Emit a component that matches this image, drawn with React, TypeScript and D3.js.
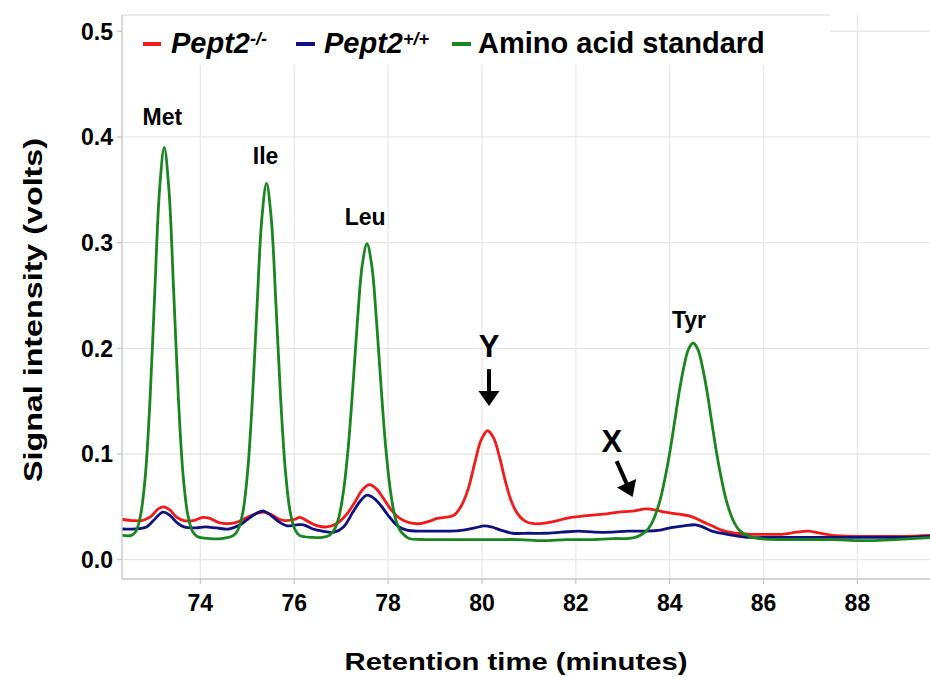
import React from "react";
import * as d3 from "d3";

// ---------- data ----------
const xTicks = [74, 76, 78, 80, 82, 84, 86, 88];
const yTicks = [0.0, 0.1, 0.2, 0.3, 0.4, 0.5];

// Pept2-/- (red)
const koTime = [72.35, 72.55, 72.75, 72.95, 73.1, 73.22, 73.35, 73.5, 73.65, 73.85, 74.05, 74.2, 74.4, 74.57, 74.75, 74.95, 75.15, 75.33, 75.5, 75.65, 75.8, 76.0, 76.12, 76.3, 76.5, 76.7, 76.9, 77.1, 77.3, 77.45, 77.6, 77.75, 77.9, 78.05, 78.25, 78.45, 78.65, 78.85, 79.05, 79.2, 79.4, 79.55, 79.7, 79.85, 79.98, 80.12, 80.25, 80.38, 80.5, 80.62, 80.75, 80.9, 81.1, 81.4, 81.7, 81.9, 82.1, 82.3, 82.6, 82.9, 83.2, 83.5, 83.7, 83.9, 84.2, 84.45, 84.7, 84.9, 85.1, 85.4, 85.7, 86.0, 86.4, 86.7, 86.95, 87.2, 87.45, 88.0, 88.5, 89.0, 89.6];
const koValue = [0.038, 0.037, 0.037, 0.041, 0.048, 0.05, 0.047, 0.04, 0.037, 0.037, 0.04, 0.039, 0.035, 0.034, 0.035, 0.039, 0.043, 0.045, 0.043, 0.039, 0.037, 0.038, 0.04, 0.036, 0.032, 0.031, 0.034, 0.042, 0.055, 0.066, 0.071, 0.067, 0.058, 0.048, 0.039, 0.035, 0.034, 0.036, 0.039, 0.04, 0.042, 0.05, 0.066, 0.092, 0.113, 0.122, 0.115, 0.096, 0.074, 0.056, 0.044, 0.037, 0.034, 0.035, 0.038, 0.04, 0.041, 0.042, 0.043, 0.045, 0.046, 0.048, 0.047, 0.045, 0.043, 0.041, 0.036, 0.032, 0.028, 0.025, 0.024, 0.024, 0.024, 0.026, 0.027, 0.025, 0.023, 0.022, 0.022, 0.022, 0.023];

// Pept2+/+ (blue)
const wtTime = [72.35, 72.6, 72.85, 73.0, 73.2, 73.35, 73.5, 73.65, 73.9, 74.1, 74.35, 74.6, 74.85, 75.0, 75.2, 75.35, 75.5, 75.7, 75.85, 76.05, 76.2, 76.4, 76.6, 76.85, 77.05, 77.25, 77.4, 77.55, 77.7, 77.85, 78.0, 78.2, 78.4, 78.7, 79.0, 79.3, 79.6, 79.85, 80.05, 80.2, 80.4, 80.65, 81.0, 81.35, 81.7, 82.06, 82.4, 82.77, 83.1, 83.5, 83.8, 84.0, 84.3, 84.55, 84.7, 84.9, 85.1, 85.35, 85.7, 86.0, 86.5, 87.0, 87.5, 88.1, 88.6, 89.0, 89.6];
const wtValue = [0.029, 0.029, 0.031, 0.037, 0.045, 0.042, 0.035, 0.031, 0.03, 0.031, 0.03, 0.029, 0.033, 0.038, 0.044, 0.046, 0.042, 0.035, 0.032, 0.033, 0.033, 0.029, 0.027, 0.026, 0.031, 0.045, 0.055, 0.061, 0.058, 0.051, 0.042, 0.032, 0.028, 0.027, 0.027, 0.027, 0.028, 0.03, 0.032, 0.031, 0.028, 0.025, 0.025, 0.025, 0.026, 0.027, 0.026, 0.026, 0.027, 0.027, 0.028, 0.03, 0.032, 0.033, 0.031, 0.027, 0.025, 0.023, 0.021, 0.021, 0.021, 0.021, 0.021, 0.021, 0.021, 0.021, 0.022];

// Amino acid standard (green)
const stdTime = [72.35, 72.53, 72.63, 72.73, 72.83, 72.93, 73.03, 73.13, 73.23, 73.33, 73.43, 73.53, 73.63, 73.73, 73.83, 73.93, 74.2, 74.45, 74.71, 74.81, 74.91, 75.01, 75.11, 75.21, 75.31, 75.41, 75.51, 75.61, 75.71, 75.81, 75.91, 76.01, 76.11, 76.4, 76.6, 76.75, 76.85, 76.95, 77.05, 77.15, 77.25, 77.35, 77.45, 77.55, 77.65, 77.75, 77.85, 77.95, 78.05, 78.15, 78.25, 78.35, 78.45, 78.8, 79.3, 79.8, 80.3, 80.8, 81.3, 81.8, 82.3, 82.8, 83.1, 83.3, 83.5, 83.6, 83.7, 83.8, 83.9, 84.0, 84.1, 84.2, 84.3, 84.4, 84.5, 84.6, 84.7, 84.8, 84.9, 85.0, 85.1, 85.2, 85.3, 85.4, 85.5, 85.7, 85.9, 86.4, 87.0, 87.5, 88.0, 88.3, 88.8, 89.6];
const stdValue = [0.023, 0.023, 0.027, 0.043, 0.081, 0.154, 0.255, 0.35, 0.39, 0.35, 0.255, 0.154, 0.081, 0.043, 0.027, 0.022, 0.02, 0.02, 0.023, 0.029, 0.046, 0.085, 0.153, 0.242, 0.323, 0.356, 0.323, 0.242, 0.153, 0.085, 0.046, 0.029, 0.023, 0.021, 0.021, 0.023, 0.028, 0.04, 0.065, 0.106, 0.164, 0.228, 0.279, 0.299, 0.279, 0.228, 0.164, 0.106, 0.065, 0.04, 0.028, 0.023, 0.02, 0.019, 0.019, 0.019, 0.019, 0.019, 0.018, 0.019, 0.019, 0.02, 0.02, 0.0216, 0.027, 0.033, 0.043, 0.057, 0.077, 0.101, 0.129, 0.158, 0.182, 0.199, 0.205, 0.199, 0.182, 0.158, 0.129, 0.101, 0.077, 0.057, 0.043, 0.033, 0.027, 0.022, 0.02, 0.019, 0.019, 0.019, 0.018, 0.018, 0.019, 0.021];

// peak labels: [text, time, value(baseline)]
const peakLabels = ["Met", "Ile", "Leu", "Tyr"];
const peakLabelTime = [73.19, 75.39, 77.51, 84.41];
const peakLabelValue = [0.411, 0.3745, 0.317, 0.219];

// arrow annotations
const arrowLabels = ["Y", "X"];
const arrowLabelTime = [80.15, 82.77];
const arrowLabelValue = [0.1915, 0.102];
const arrowFromTime = [80.15, 82.87];
const arrowFromValue = [0.1803, 0.0933];
const arrowToTime = [80.15, 83.21];
const arrowToValue = [0.1455, 0.0593];

const FONT = "'Liberation Sans', Arial, Helvetica, sans-serif";
const RED = "#f01a1a";
const BLUE = "#10107e";
const GREEN = "#1a861f";

export default function App() {
  const W = 930;
  const H = 677;
  const left = 122;
  const right = 932.5;
  const top = 15;
  const bottom = 579;

  const x = d3.scaleLinear().domain([72.33, 89.6]).range([left, right]);
  const y = d3.scaleLinear().domain([-0.0183, 0.5154]).range([bottom, top]);

  const line = d3
    .line<[number, number]>()
    .x((d) => x(d[0]))
    .y((d) => y(d[1]))
    .curve(d3.curveCatmullRom.alpha(0.5));

  const series = [
    { t: koTime, v: koValue, color: RED },
    { t: wtTime, v: wtValue, color: BLUE },
    { t: stdTime, v: stdValue, color: GREEN },
  ];

  const gridColor = "#e8e8e8";
  const axisColor = "#c4c4c4";

  return (
    <svg
      width={W}
      height={H}
      style={{ position: "absolute", left: 0, top: 0, background: "#fff" }}
      fontFamily={FONT}
    >
      <rect x={0} y={0} width={W} height={H} fill="#fff" />
      <defs>
        <clipPath id="plotclip">
          <rect x={left} y={top} width={right - left} height={bottom - top} />
        </clipPath>
      </defs>
      {/* grid */}
      {xTicks.map((t) => (
        <line key={"gx" + t} x1={x(t)} x2={x(t)} y1={top} y2={bottom} stroke={gridColor} strokeWidth={1.3} />
      ))}
      {yTicks.map((v) => (
        <line key={"gy" + v} x1={left} x2={right} y1={y(v)} y2={y(v)} stroke={gridColor} strokeWidth={1.3} />
      ))}

      {/* series */}
      <g clipPath="url(#plotclip)">
        {series.map((s, i) => (
          <path
            key={i}
            d={line(s.t.map((t, j) => [t, s.v[j]] as [number, number])) || ""}
            fill="none"
            stroke={s.color}
            strokeWidth={2.8}
            strokeLinejoin="round"
            strokeLinecap="round"
          />
        ))}
      </g>

      {/* legend box */}
      <rect x={left} y={top} width={708} height={50} fill="#fff" />
      <line x1={left} x2={left + 708} y1={top} y2={top} stroke="#d8d8d8" strokeWidth={1.2} />
      <g fontWeight="bold" fontSize={29} fill="#000">
        <rect x={143} y={42} width={18} height={4} fill={RED} />
        <text x={171} y={53} fontStyle="italic">
          Pept2
          <tspan fontSize={18} dy={-8}>-/-</tspan>
        </text>
        <rect x={296} y={42} width={19} height={4} fill={BLUE} />
        <text x={324} y={53} fontStyle="italic">
          Pept2
          <tspan fontSize={18} dy={-8}>+/+</tspan>
        </text>
        <rect x={452} y={42} width={19} height={4} fill={GREEN} />
        <text x={478} y={53}>Amino acid standard</text>
      </g>

      {/* axes */}
      <line x1={left} x2={left} y1={top} y2={bottom} stroke={axisColor} strokeWidth={1.3} />
      <line x1={left} x2={right} y1={bottom} y2={bottom} stroke={axisColor} strokeWidth={1.3} />
      {yTicks.map((v) => (
        <g key={"yt" + v}>
          <line x1={left - 5} x2={left} y1={y(v)} y2={y(v)} stroke={axisColor} strokeWidth={1.2} />
          <text x={113} y={y(v)} dy="0.36em" textAnchor="end" fontSize={23} fontWeight="bold">
            {v.toFixed(1)}
          </text>
        </g>
      ))}
      {xTicks.map((t) => (
        <g key={"xt" + t}>
          <line x1={x(t)} x2={x(t)} y1={bottom} y2={bottom + 5} stroke={axisColor} strokeWidth={1.2} />
          <text x={x(t)} y={611} textAnchor="middle" fontSize={23} fontWeight="bold">
            {t}
          </text>
        </g>
      ))}

      {/* axis titles */}
      <text
        x={516}
        y={670}
        textAnchor="middle"
        fontSize={24}
        fontWeight="bold"
        textLength={343}
        lengthAdjust="spacingAndGlyphs"
      >
        Retention time (minutes)
      </text>
      <text
        transform={`translate(42,310) rotate(-90)`}
        textAnchor="middle"
        fontSize={25}
        fontWeight="bold"
        textLength={344}
        lengthAdjust="spacingAndGlyphs"
      >
        Signal intensity (volts)
      </text>

      {/* peak labels */}
      {peakLabels.map((lab, i) => (
        <text
          key={lab}
          x={x(peakLabelTime[i])}
          y={y(peakLabelValue[i])}
          textAnchor="middle"
          fontSize={23}
          fontWeight="bold"
        >
          {lab}
        </text>
      ))}

      {/* arrow annotations */}
      {arrowLabels.map((lab, i) => {
        const x1 = x(arrowFromTime[i]);
        const y1 = y(arrowFromValue[i]);
        const x2 = x(arrowToTime[i]);
        const y2 = y(arrowToValue[i]);
        const len = Math.hypot(x2 - x1, y2 - y1);
        const ux = (x2 - x1) / len;
        const uy = (y2 - y1) / len;
        const headL = 15;
        const headW = 10.5;
        const bx = x2 - ux * headL;
        const by = y2 - uy * headL;
        const px = -uy;
        const py = ux;
        return (
          <g key={lab}>
            <text
              x={x(arrowLabelTime[i])}
              y={y(arrowLabelValue[i])}
              textAnchor="middle"
              fontSize={31}
              fontWeight="bold"
            >
              {lab}
            </text>
            <line x1={x1} y1={y1} x2={bx + ux * 2} y2={by + uy * 2} stroke="#000" strokeWidth={4} />
            <path
              d={`M${x2},${y2}L${bx + px * headW},${by + py * headW}L${bx - px * headW},${by - py * headW}Z`}
              fill="#000"
            />
          </g>
        );
      })}
    </svg>
  );
}
